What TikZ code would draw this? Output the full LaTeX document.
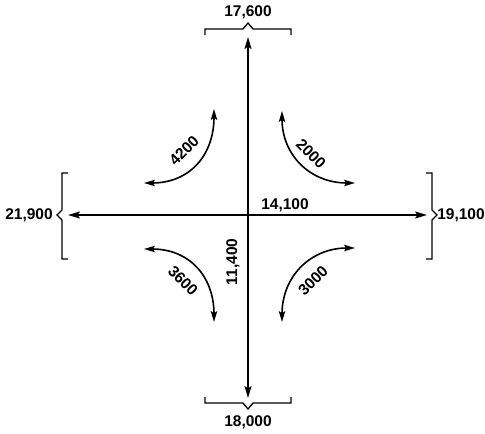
\documentclass[tikz,border=0pt]{standalone}
\usepackage{fontspec}
\setmainfont{Liberation Sans}
\usetikzlibrary{arrows.meta}
\begin{document}
\begin{tikzpicture}[x=1pt,y=-1pt,
  flow/.style={line width=1.8pt,{Stealth[length=12pt,width=7pt,inset=2.5pt]}-{Stealth[length=12pt,width=7pt,inset=2.5pt]}},
  turn/.style={line width=1.6pt,{Stealth[length=11pt,width=6.5pt,inset=2.5pt]}-{Stealth[length=11pt,width=6.5pt,inset=2.5pt]}},
  brace/.style={line width=1.3pt},
  lbl/.style={font=\fontsize{15.5}{15.5}\selectfont\bfseries,inner sep=0pt}]
\useasboundingbox (0,0) rectangle (485,434);
% main arrows
\coordinate (N) at (248,37);
\coordinate (S) at (248,398);
\coordinate (W) at (68,215);
\coordinate (E) at (427,215);
\draw[flow] (N) -- (S);
\draw[flow] (W) -- (E);
% brackets
\draw[brace] (205,35) -- (205,29) -- (243,29) -- (248,23) -- (253,29) -- (291,29) -- (291,35);
\draw[brace] (205,397) -- (205,403) -- (243,403) -- (248,409) -- (253,403) -- (291,403) -- (291,397);
\draw[brace] (68,173) -- (62,173) -- (62,210) -- (57,215) -- (62,220) -- (62,259) -- (68,259);
\draw[brace] (426,173) -- (432,173) -- (432,210) -- (437,215) -- (432,220) -- (432,259) -- (426,259);
% totals
\node[lbl] (tN) at (248,12) {17,600};
\node[lbl] (tS) at (248,422) {18,000};
\node[lbl] (tW) at (29,215) {21,900};
\node[lbl] (tE) at (461,215) {19,100};
\node[lbl] (th) at (285,205) {14,100};
\node[lbl,rotate=90] (tv) at (233,262) {11,400};
% turning movements
\coordinate (a1) at (214,109);
\coordinate (a2) at (144,183);
\draw[turn] (a1) .. controls (214,155) and (190,183) .. (a2);
\coordinate (b1) at (282,111);
\coordinate (b2) at (355,183);
\draw[turn] (b1) .. controls (282,155) and (310,183) .. (b2);
\coordinate (c1) at (144,249);
\coordinate (c2) at (214,322);
\draw[turn] (c1) .. controls (190,249) and (214,277) .. (c2);
\coordinate (d1) at (355,248);
\coordinate (d2) at (282,322);
\draw[turn] (d1) .. controls (310,248) and (282,277) .. (d2);
\node[lbl,rotate=45] (l1) at (184,151) {4200};
\node[lbl,rotate=-45] (l2) at (311,154) {2000};
\node[lbl,rotate=-45] (l3) at (183,281) {3600};
\node[lbl,rotate=45] (l4) at (313,281) {3000};
\end{tikzpicture}
\end{document}
